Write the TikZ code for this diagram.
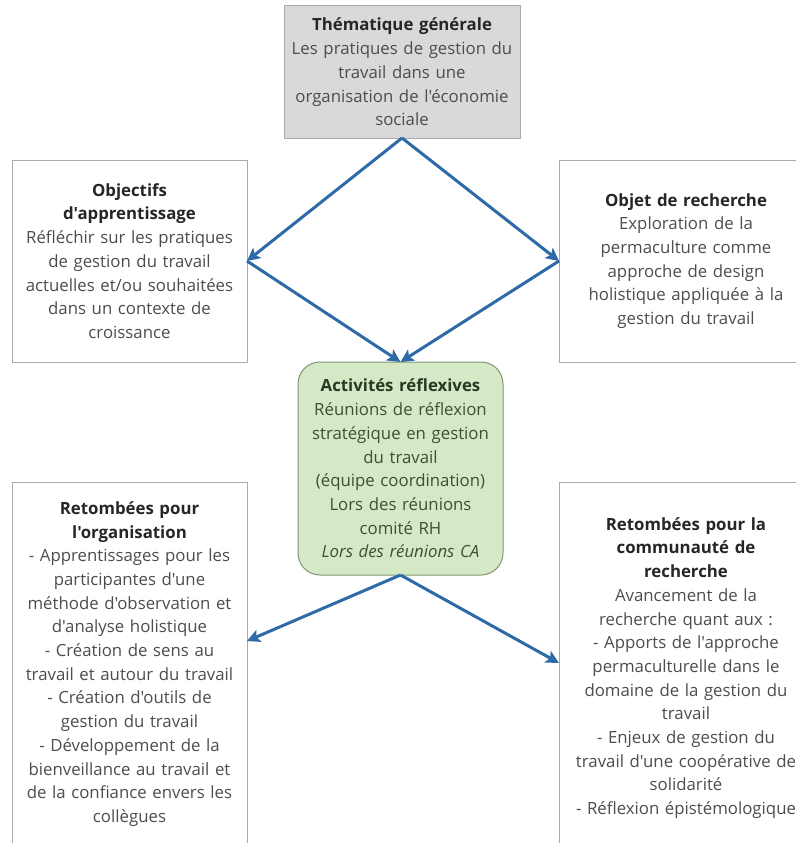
\documentclass[tikz,border=0pt]{standalone}
\usepackage{fontspec}
\setmainfont{Open Sans}[Ligatures=TeXOff]
\definecolor{linkblue}{RGB}{46,106,168}
\definecolor{boxgray}{RGB}{217,217,217}
\definecolor{framegray}{RGB}{170,170,170}
\definecolor{textgray}{RGB}{77,77,77}
\definecolor{titlegray}{RGB}{38,38,38}
\definecolor{leafgreen}{RGB}{214,233,198}
\definecolor{leafframe}{RGB}{130,150,115}
\definecolor{leaftext}{RGB}{62,80,48}
\tikzset{every picture/.style={/utils/exec={\fontsize{16.8}{23.7}\selectfont}}}
\usetikzlibrary{arrows.meta}
\tikzset{
  box/.style={draw=framegray, line width=1pt, fill=white, text=textgray,
    align=center, inner sep=0pt, outer sep=0pt},
  link/.style={draw=linkblue, line width=3pt,
    -{Stealth[length=13pt, width=13pt, inset=3pt]}},
}
\newcommand{\heading}[1]{{\bfseries\color{titlegray}#1}}

\begin{document}
\begin{tikzpicture}[x=1pt, y=-1pt]
  \useasboundingbox (0,0) rectangle (796,843);
  \clip (0,0) rectangle (796,843);

  \node [box, fill=boxgray, minimum width=236pt, minimum height=132pt, text width=232pt] (theme) at (402,72)
    {\heading{Thématique générale}\\ Les pratiques de gestion du\\ travail dans une\\ organisation de l'économie\\ sociale};

  \node [box, minimum width=235pt, minimum height=202pt, text width=231pt] (goals) at (129.5,261)
    {\heading{Objectifs}\\ \heading{d'apprentissage}\\ Réfléchir sur les pratiques\\ de gestion du travail\\ actuelles et/ou souhaitées\\ dans un contexte de\\ croissance};

  \node [box, minimum width=254pt, minimum height=202pt, text width=248pt] (object) at (686,261)
    {\heading{Objet de recherche}\\ Exploration de la\\ permaculture comme\\ approche de design\\ holistique appliquée à la\\ gestion du travail};

  \node [box, fill=leafgreen, draw=leafframe, text=leaftext, rounded corners=22pt,
    minimum width=205pt, minimum height=213pt, text width=203pt] (activities) at (400.5,468.5)
    {{\bfseries\color{leaftext!70!black}Activités réflexives}\\ Réunions de réflexion\\ stratégique en gestion\\ du travail\\ (équipe coordination)\\ Lors des réunions\\ comité RH\\ \textit{Lors des réunions CA}};

  \node [box, minimum width=235pt, minimum height=364pt, text width=231pt] (orgimpact) at (129.5,664)
    {\heading{Retombées pour}\\ \heading{l'organisation}\\ - Apprentissages pour les\\ participantes d'une\\ méthode d'observation et\\ d'analyse holistique\\ - Création de sens au\\ travail et autour du travail\\ - Création d'outils de\\ gestion du travail\\ - Développement de la\\ bienveillance au travail et\\ de la confiance envers les\\ collègues};

  \node [box, minimum width=254pt, minimum height=372pt, text width=250pt] (researchimpact) at (686,668)
    {\heading{Retombées pour la}\\ \heading{communauté de}\\ \heading{recherche}\\ Avancement de la\\ recherche quant aux :\\ - Apports de l'approche\\ permaculturelle dans le\\ domaine de la gestion du\\ travail\\ - Enjeux de gestion du\\ travail d'une coopérative de\\ solidarité\\ - Réflexion épistémologique};

  % theme to goals and object:
  \draw [link] (theme.south) -- (goals.east);
  \draw [link] (theme.south) -- (object.west);

  % goals and object to activities:
  \draw [link] (goals.east) -- (activities.north);
  \draw [link] (object.west) -- (activities.north);

  % activities to impacts:
  \draw [link] (activities.south) -- ([yshift=23pt]orgimpact.east);
  \draw [link] (activities.south) -- ([yshift=5pt]researchimpact.west);

\end{tikzpicture}
\end{document}
